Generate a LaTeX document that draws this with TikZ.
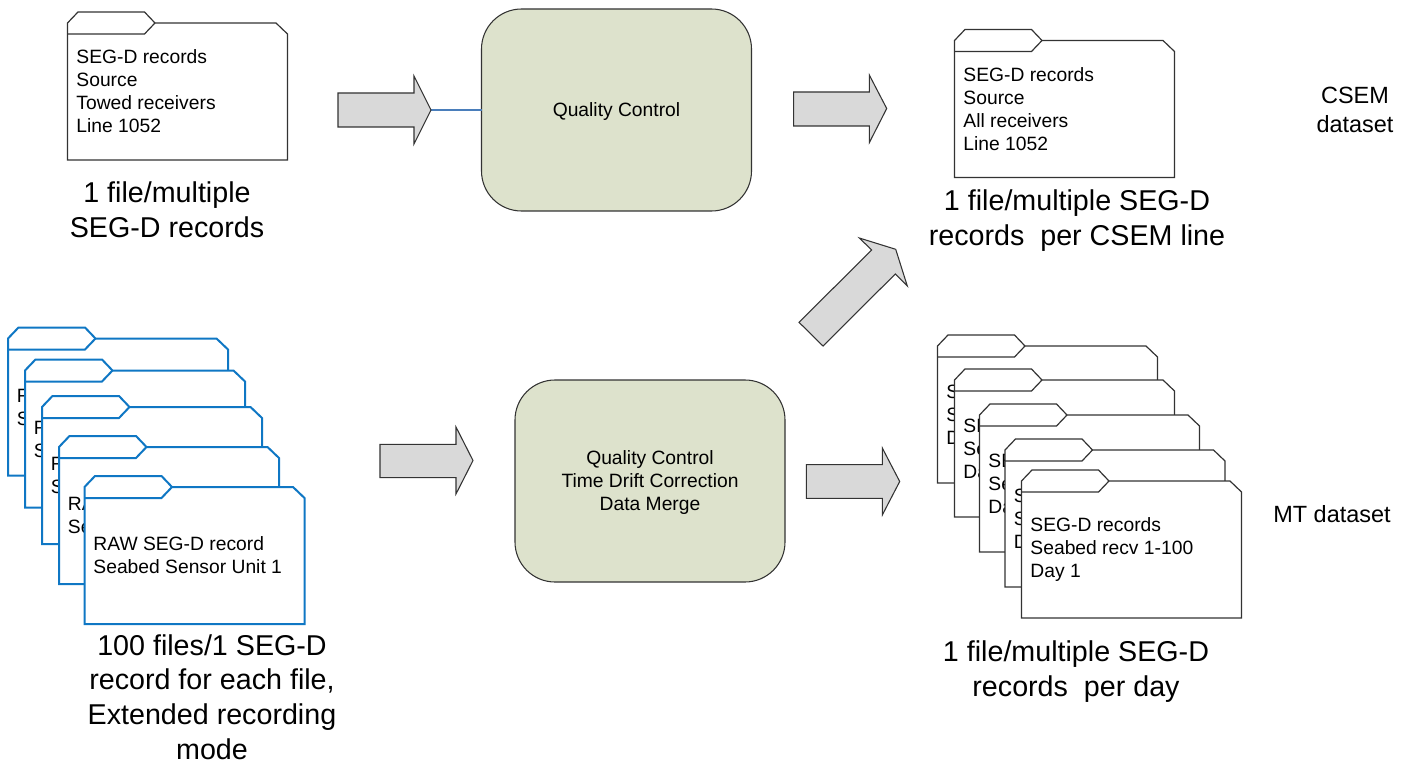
\documentclass[tikz,border=0pt]{standalone}
\usepackage{fontspec}
\setmainfont{Liberation Sans}
\definecolor{boxfill}{HTML}{DDE2CC}
\definecolor{arrowfill}{HTML}{D9D9D9}
\definecolor{lineblue}{HTML}{0F77C4}
\definecolor{linkblue}{HTML}{4A7EBB}
\definecolor{inkgrey}{HTML}{333333}
\newcommand{\smalltext}{\fontsize{14.45}{17.2}\selectfont}
\newcommand{\bigtext}{\fontsize{21.5}{26.1}\selectfont}
\newcommand{\sidetext}{\fontsize{17.6}{21.8}\selectfont}
\tikzset{
  folderblack/.style={draw=inkgrey,fill=white,line width=0.9pt,line join=miter},
  folderblue/.style={draw=lineblue,fill=white,line width=1.5pt,line join=miter},
  foldertext/.style={anchor=west,align=left,inner sep=0pt,font=\smalltext},
  qualitybox/.style={draw=inkgrey,fill=boxfill,line width=0.8pt,rounded corners=30pt},
  boxtext/.style={align=center,inner sep=0pt,font=\smalltext},
  blockarrow/.style={draw=inkgrey,fill=arrowfill,line width=0.8pt,line join=miter},
  caption/.style={align=center,inner sep=0pt,font=\bigtext},
  sidelabel/.style={align=center,inner sep=0pt,font=\sidetext},
}
% #1 node name, #2 style, #3 x, #4 top y, #5 text
\newcommand{\folder}[5]{%
  \begin{scope}[shift={(#3,#4)}]
    \path[#2] (0,11) -- (10.5,0) -- (77,0) -- (87.5,11) -- (208.5,11) -- (220,22) -- (220,148) -- (0,148) -- cycle;
    \path[#2,fill=none] (0,22) -- (77,22) -- (87.5,11);
    \node[foldertext] (#1) at (8.7,79.5) {#5};
  \end{scope}}
\begin{document}
\begin{tikzpicture}[x=0.75pt,y=-0.75pt]
\useasboundingbox (0,0) rectangle (1410,763);

% top-left folder
\folder{srcfolder}{folderblack}{67.5}{12}{SEG-D records\\Source\\Towed receivers\\Line 1052}
\node[caption] (srccap) at (167,209.5) {1 file/multiple\\SEG-D records};

% quality boxes
\path[qualitybox] (481.5,9) rectangle (751.5,211);
\node[boxtext] (qc) at (616.5,111.5) {Quality Control};
\path[qualitybox] (515,380) rectangle (785,582);
\node[boxtext] (merge) at (650,482.5) {Quality Control\\Time Drift Correction\\Data Merge};

% block arrows
\coordinate (tipa) at (431,110);
\coordinate (qcwest) at (481.5,110);
\draw[linkblue,line width=0.8pt] (tipa) -- (qcwest);
\path[blockarrow] (338,93) -- (414,93) -- (414,76) -- (tipa) -- (414,144) -- (414,127) -- (338,127) -- cycle;
\path[blockarrow] (793.7,92) -- (869.3,92) -- (869.3,75) -- (886.7,108.5) -- (869.3,142.7) -- (869.3,126) -- (793.7,126) -- cycle;
\path[blockarrow] (380,444.3) -- (456,444.3) -- (456,427) -- (473,460.5) -- (456,494) -- (456,477.7) -- (380,477.7) -- cycle;
\path[blockarrow] (806.3,464.7) -- (882.3,464.7) -- (882.3,448) -- (899.7,481.5) -- (882.3,515) -- (882.3,498.3) -- (806.3,498.3) -- cycle;
\path[blockarrow] (799,322.3) -- (871.7,250) -- (859.3,238) -- (895.7,249.3) -- (907.3,286) -- (895.3,274) -- (823,346) -- cycle;

% top-right folder
\folder{csemfolder}{folderblack}{954.5}{29.5}{SEG-D records\\Source\\All receivers\\Line 1052}
\node[caption] (csemcap) at (1077,220.5) {1 file/multiple SEG-D\\records\ \ per CSEM line};
\node[sidelabel] (csemlabel) at (1355,109.5) {CSEM\\dataset};

% raw blue stack
\folder{rawa}{folderblue}{8}{327.5}{R\\S}
\folder{rawb}{folderblue}{25}{359.5}{R\\S}
\folder{rawc}{folderblue}{42}{396}{R\\S}
\folder{rawd}{folderblue}{59}{436}{RA\\Se}
\folder{rawe}{folderblue}{84.5}{476}{RAW SEG-D record\\Seabed Sensor Unit 1}
\node[caption] (rawcap) at (212,697) {100 files/1 SEG-D\\record for each file,\\Extended recording\\mode};

% merged black stack
\folder{mta}{folderblack}{937.5}{335}{S\\S\\D}
\folder{mtb}{folderblack}{954.5}{369}{SE\\Se\\Da}
\folder{mtc}{folderblack}{979.5}{404}{SE\\Se\\Da}
\folder{mtd}{folderblack}{1005}{439}{S\\S\\D}
\folder{mte}{folderblack}{1021.5}{470}{SEG-D records\\Seabed recv 1-100\\Day 1}
\node[caption] (mtcap) at (1076,671.5) {1 file/multiple SEG-D\\records\ \ per day};
\node[sidelabel] (mtlabel) at (1332,514) {MT dataset};
\end{tikzpicture}
\end{document}
